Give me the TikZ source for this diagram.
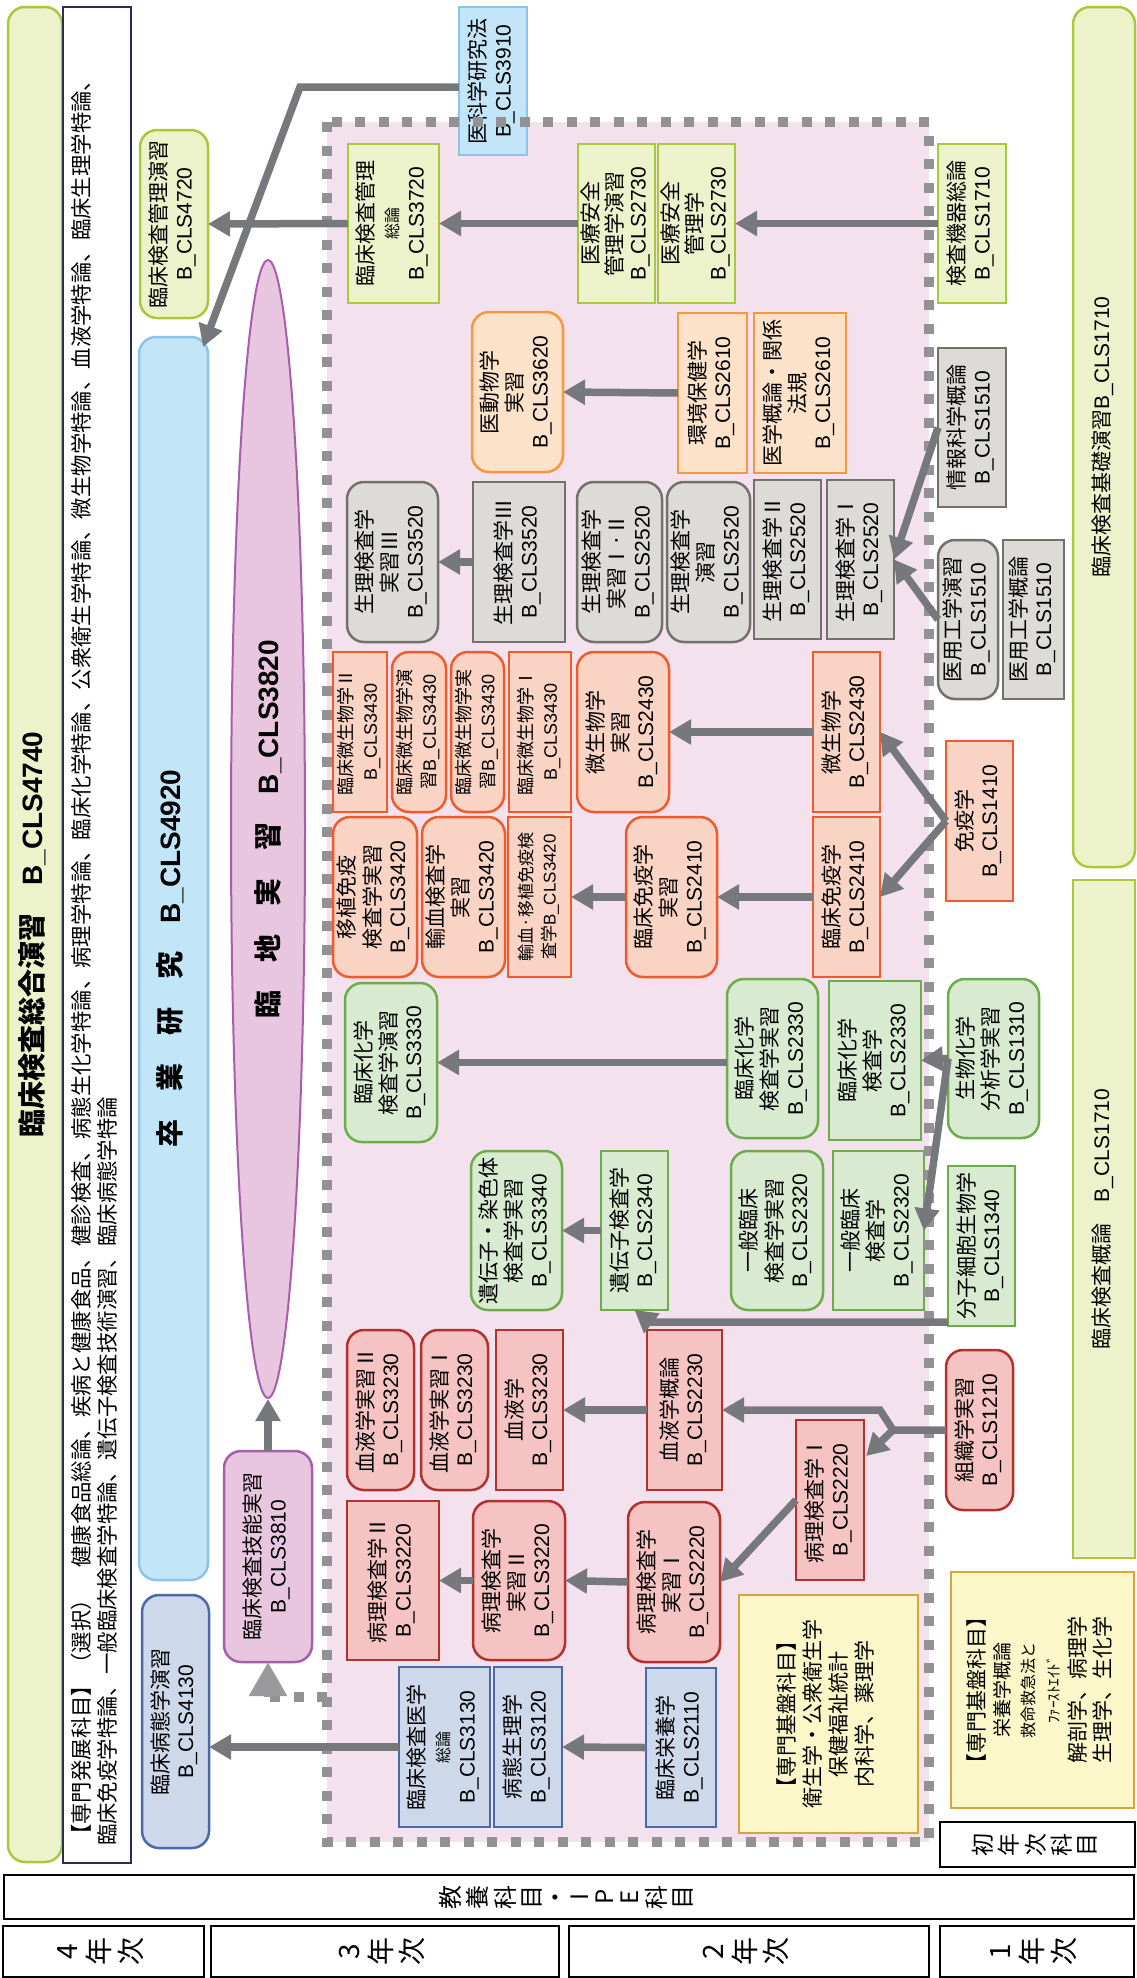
\documentclass[tikz,border=0pt]{standalone}
\usepackage{fontspec}
\usepackage{graphicx}
\setmainfont{Noto Sans CJK JP}
\newfontfamily\lat{Liberation Sans}
\usetikzlibrary{arrows.meta,shapes.geometric}
\newcommand\cls[1]{{\lat B\_CLS#1}}
\definecolor{grnF}{HTML}{ECF2C9}
\definecolor{grnD}{HTML}{AAC83C}
\definecolor{bluF}{HTML}{C2E5F8}
\definecolor{bluD}{HTML}{8CC3EA}
\definecolor{pinkBG}{HTML}{F3E1EE}
\definecolor{dashG}{HTML}{929294}
\definecolor{orF}{HTML}{FDE2CA}
\definecolor{orD}{HTML}{F7983C}
\definecolor{gyF}{HTML}{DDDBD8}
\definecolor{gyD}{HTML}{74716D}
\definecolor{roF}{HTML}{F9D3C3}
\definecolor{roD}{HTML}{EF5B2A}
\definecolor{gnF}{HTML}{D8EBD1}
\definecolor{gnD}{HTML}{6CAC4B}
\definecolor{rdF}{HTML}{F5C4C2}
\definecolor{rdD}{HTML}{B3302D}
\definecolor{bgF}{HTML}{CDD8EA}
\definecolor{bgD}{HTML}{4A69A9}
\definecolor{puF}{HTML}{E8C6E0}
\definecolor{puD}{HTML}{A65FAB}
\definecolor{yeF}{HTML}{FBF7C8}
\definecolor{yeD}{HTML}{D8A53C}
\definecolor{navy}{HTML}{272D5C}
\definecolor{arrG}{HTML}{77787B}
\definecolor{larrG}{HTML}{9A9A9C}
\tikzset{
  bx/.style={rectangle, inner sep=0pt, outer sep=0pt, line width=2.5pt, font=\fontsize{21}{25}\selectfont},
  rnd/.style={rounded corners=17pt},
  grn/.style={bx, draw=grnD, fill=grnF},
  blu/.style={bx, draw=bluD, fill=bluF},
  ora/.style={bx, draw=orD, fill=orF},
  gry/.style={bx, draw=gyD, fill=gyF},
  ros/.style={bx, draw=roD, fill=roF},
  gne/.style={bx, draw=gnD, fill=gnF},
  red/.style={bx, draw=rdD, fill=rdF},
  blg/.style={bx, draw=bgD, fill=bgF},
  pur/.style={bx, draw=puD, fill=puF},
  yel/.style={bx, draw=yeD, fill=yeF},
  wht/.style={bx, draw=black, fill=white, line width=2pt},
  smallf/.style={font=\fontsize{18}{24}\selectfont},
  tinyf/.style={font=\fontsize{17}{23}\selectfont},
  tightf/.style={font=\fontsize{21}{23}\selectfont},
  bigb/.style={font=\bfseries\fontsize{28}{30}\selectfont},
  arr/.style={draw=arrG, line width=7.5pt, -{Triangle[length=22pt,width=24pt]}},
  larr/.style={draw=larrG, line width=9pt, -{Triangle[length=34pt,width=36pt]}},
  dashln/.style={draw=dashG, line width=10pt, dash pattern=on 10pt off 13.5pt},
}
\newcommand\mkbox[7]{%
  \pgfmathsetmacro\mkW{#4-#3}%
  \pgfmathsetmacro\mkH{#6-#5}%
  \pgfmathsetmacro\mkX{(#3+#4)/2}%
  \pgfmathsetmacro\mkY{(#5+#6)/2}%
  \node[#1, minimum width=\mkW pt, minimum height=\mkH pt] (#2) at (\mkX,\mkY) {\rotatebox{90}{\begin{tabular}{@{}c@{}}#7\end{tabular}}};%
}
\begin{document}
\begin{tikzpicture}[x=1pt,y=-1pt]
\useasboundingbox (0,0) rectangle (1136,1978);
% pink region
\fill[pinkBG] (327,122) rectangle (929,1842);
% side bars
\mkbox{grn,rnd,bigb}{sogo}{8}{62}{7}{1862}{臨床検査総合演習　\cls{4740}}
\mkbox{wht,draw=navy,line width=2.5pt}{hatten}{63}{131}{7}{1863}{}
\node[rotate=90, anchor=west, inner sep=0pt, font=\fontsize{21.4}{25}\selectfont] (hat1) at (81,1846) {【専門発展科目】（選択）　健康食品総論、疾病と健康食品、健診検査、病態生化学特論、病理学特論、臨床化学特論、公衆衛生学特論、微生物学特論、血液学特論、臨床生理学特論、};
\node[rotate=90, anchor=west, inner sep=0pt, font=\fontsize{21.4}{25}\selectfont] (hat2) at (107,1846) {臨床免疫学特論、一般臨床検査学特論、遺伝子検査技術演習、臨床病態学特論};
\mkbox{blu,rnd,bigb}{sotsu}{139}{208}{337}{1580}{卒　業　研　究　\cls{4920}}
\node[ellipse, draw=puD, fill=puF, line width=2pt, minimum width=74pt, minimum height=1138pt, inner sep=0pt, bigb] (rinchi) at (268,829) {\rotatebox{90}{臨　地　実　習　\cls{3820}}};
\mkbox{grn,rnd}{kiso}{1073}{1135}{7}{867}{臨床検査基礎演習\cls{1710}}
\mkbox{grn}{gairon}{1073}{1135}{880}{1558}{臨床検査概論　\cls{1710}}
% top row
\mkbox{grn,rnd}{mgmtA}{140}{208}{130}{318}{臨床検査管理演習\\\cls{4720}}
\mkbox{grn}{mgmtB}{348}{439}{144}{303}{臨床検査管理\\{\fontsize{16}{25}\selectfont 総論}\\\cls{3720}}
\mkbox{blu}{ikagaku}{459}{527}{7}{155}{医科学研究法\\\cls{3910}}
\mkbox{grn,tightf}{anzenE}{578}{655}{144}{303}{医療安全\\管理学演習\\\cls{2730}}
\mkbox{grn,tightf}{anzen}{658}{735}{144}{303}{医療安全\\管理学\\\cls{2730}}
\mkbox{grn}{kiki}{938}{1006}{144}{303}{検査機器総論\\\cls{1710}}
% orange row
\mkbox{ora,rnd}{idobutsu}{472}{563}{312}{472}{医動物学\\実習\\\cls{3620}}
\mkbox{ora}{kankyo}{678}{747}{313}{473}{環境保健学\\\cls{2610}}
\mkbox{ora}{igaku}{754}{846}{313}{473}{医学概論・関係\\法規\\\cls{2610}}
\mkbox{gry}{joho}{938}{1006}{348}{507}{情報科学概論\\\cls{1510}}
% grey row
\mkbox{gry,rnd}{seiriJ3}{347}{438}{482}{642}{生理検査学\\実習Ⅲ\\\cls{3520}}
\mkbox{gry}{seiri3}{473}{565}{482}{642}{生理検査学Ⅲ\\\cls{3520}}
\mkbox{gry,rnd}{seiriJ12}{577}{662}{482}{642}{生理検査学\\実習Ⅰ·Ⅱ\\\cls{2520}}
\mkbox{gry,rnd}{seiriE}{667}{750}{482}{642}{生理検査学\\演習\\\cls{2520}}
\mkbox{gry}{seiri2}{754}{821}{480}{639}{生理検査学Ⅱ\\\cls{2520}}
\mkbox{gry}{seiri1}{827}{894}{480}{639}{生理検査学Ⅰ\\\cls{2520}}
\mkbox{gry,rnd}{iyoE}{938}{998}{540}{699}{医用工学演習\\\cls{1510}}
\mkbox{gry}{iyo}{1003}{1064}{540}{699}{医用工学概論\\\cls{1510}}
% microbiology row
\mkbox{ros,smallf}{rinbi2}{333}{387}{652}{812}{臨床微生物学Ⅱ\\\cls{3430}}
\mkbox{ros,rnd,smallf}{rinbiE}{392}{446}{652}{812}{臨床微生物学演\\習\cls{3430}}
\mkbox{ros,rnd,smallf}{rinbiJ}{451}{504}{652}{812}{臨床微生物学実\\習\cls{3430}}
\mkbox{ros,smallf}{rinbi1}{509}{571}{652}{812}{臨床微生物学Ⅰ\\\cls{3430}}
\mkbox{ros,rnd}{biseiJ}{577}{669}{652}{812}{微生物学\\実習\\\cls{2430}}
\mkbox{ros}{bisei}{813}{880}{652}{812}{微生物学\\\cls{2430}}
\mkbox{ros}{meneki}{946}{1013}{741}{901}{免疫学\\\cls{1410}}
% immunology row
\mkbox{ros,rnd}{ishoku}{333}{417}{817}{977}{移植免疫\\検査学実習\\\cls{3420}}
\mkbox{ros,rnd}{yuketsuJ}{422}{505}{817}{977}{輸血検査学\\実習\\\cls{3420}}
\mkbox{ros,tinyf}{yuketsu}{508}{571}{817}{977}{輸血·移植免疫検\\査学\cls{3420}}
\mkbox{ros,rnd}{rinmenJ}{626}{717}{817}{977}{臨床免疫学\\実習\\\cls{2410}}
\mkbox{ros}{rinmen}{813}{880}{817}{977}{臨床免疫学\\\cls{2410}}
% chemistry row
\mkbox{gne,rnd}{rinkaE}{345}{437}{983}{1142}{臨床化学\\検査学演習\\\cls{3330}}
\mkbox{gne,rnd}{rinkaJ}{727}{818}{979}{1138}{臨床化学\\検査学実習\\\cls{2330}}
\mkbox{gne}{rinka}{829}{921}{981}{1140}{臨床化学\\検査学\\\cls{2330}}
\mkbox{gne,rnd}{seibutsu}{948}{1039}{979}{1138}{生物化学\\分析学実習\\\cls{1310}}
% gene row
\mkbox{gne,rnd}{idenshiJ}{471}{562}{1151}{1310}{遺伝子・染色体\\検査学実習\\\cls{3340}}
\mkbox{gne}{idenshi}{601}{668}{1151}{1310}{遺伝子検査学\\\cls{2340}}
\mkbox{gne,rnd}{ippanJ}{731}{823}{1151}{1310}{一般臨床\\検査学実習\\\cls{2320}}
\mkbox{gne}{ippan}{833}{924}{1151}{1310}{一般臨床\\検査学\\\cls{2320}}
\mkbox{gne}{bunshi}{948}{1015}{1166}{1326}{分子細胞生物学\\\cls{1340}}
% blood row
\mkbox{red,rnd}{ketsuJ2}{347}{414}{1330}{1490}{血液学実習Ⅱ\\\cls{3230}}
\mkbox{red,rnd}{ketsuJ1}{421}{488}{1330}{1490}{血液学実習Ⅰ\\\cls{3230}}
\mkbox{red}{ketsu}{496}{563}{1330}{1490}{血液学\\\cls{3230}}
\mkbox{red}{ketsuG}{647}{722}{1330}{1490}{血液学概論\\\cls{2230}}
\mkbox{red,rnd}{soshiki}{946}{1013}{1350}{1510}{組織学実習\\\cls{1210}}
% pathology row
\mkbox{red}{byori2}{347}{439}{1501}{1660}{病理検査学Ⅱ\\\cls{3220}}
\mkbox{red,rnd}{byoriJ2}{473}{565}{1501}{1660}{病理検査学\\実習Ⅱ\\\cls{3220}}
\mkbox{red,rnd}{byoriJ1}{628}{720}{1502}{1662}{病理検査学\\実習Ⅰ\\\cls{2220}}
\mkbox{red}{byori1}{796}{864}{1420}{1580}{病理検査学Ⅰ\\\cls{2220}}
% blue-grey row
\mkbox{blg}{rinken}{399}{490}{1667}{1827}{臨床検査医学\\{\fontsize{16}{25}\selectfont 総論}\\\cls{3130}}
\mkbox{blg}{byotai}{494}{562}{1667}{1827}{病態生理学\\\cls{3120}}
\mkbox{blg}{eiyo}{646}{716}{1668}{1827}{臨床栄養学\\\cls{2110}}
\mkbox{blg,rnd}{byotaiE}{142}{209}{1595}{1848}{臨床病態学演習\\\cls{4130}}
\mkbox{pur,rnd}{gino}{224}{312}{1451}{1662}{臨床検査技能実習\\\cls{3810}}
% yellow boxes
\mkbox{yel,font=\fontsize{21}{26}\selectfont}{kibanIn}{739}{918}{1595}{1833}{【専門基盤科目】\\衛生学・公衆衛生学\\保健福祉統計\\内科学、薬理学}
\mkbox{yel}{kibanOut}{951}{1134}{1572}{1808}{【専門基盤科目】\\{\fontsize{19}{25}\selectfont 栄養学概論}\\{\fontsize{16}{25}\selectfont 救命救急法と}\\{\fontsize{15}{25}\selectfont ﾌｧｰｽﾄｴｲﾄﾞ}\\解剖学、病理学\\生理学、生化学}
% bottom frames
\mkbox{wht,font=\fontsize{23}{24}\selectfont}{shonen}{940}{1135}{1822}{1867}{初\\年\\次\\科\\目}
\mkbox{wht,font=\fontsize{24}{24}\selectfont}{kyoyo}{4}{1134}{1875}{1919}{教\\養\\科\\目\\・\\I\\P\\E\\科\\目}
\mkbox{wht,font=\fontsize{28}{28}\selectfont}{yr4}{3}{204}{1926}{1977}{4\\年\\次}
\mkbox{wht,font=\fontsize{28}{28}\selectfont}{yr3}{211}{559}{1926}{1977}{3\\年\\次}
\mkbox{wht,font=\fontsize{28}{28}\selectfont}{yr2}{569}{929}{1926}{1977}{2\\年\\次}
\mkbox{wht,font=\fontsize{28}{28}\selectfont}{yr1}{940}{1134}{1926}{1977}{1\\年\\次}
% dashed border of region
\draw[dashln] (327,122) rectangle (929,1842);
% arrows
\draw[arr] (mgmtB.west) -- (mgmtA.east);
\draw[arr] (anzenE.west) -- (mgmtB.east);
\draw[arr] (kiki.west) -- (anzen.east);
\coordinate (k1) at (300,87);
\coordinate (k2) at (203,347);
\draw[arr] (ikagaku.west |- k1) -- (k1) -- (k2);
\draw[arr] (kankyo.west) -- (idobutsu.east);
\draw[arr] (seiri3.west) -- (seiriJ3.east);
\draw[arr] (joho.west) -- (seiri1.east);
\draw[arr] (iyoE.west) -- (seiri1.east);
\draw[arr] (bisei.west) -- (biseiJ.east);
\draw[arr] (meneki.west) -- (bisei.east);
\draw[arr] (meneki.west) -- (rinmen.east);
\draw[arr] (rinmen.west) -- (rinmenJ.east);
\draw[arr] (rinmenJ.west) -- (yuketsu.east);
\draw[arr] (rinkaJ.west |- rinkaE.east) -- (rinkaE.east);
\draw[arr] (seibutsu.west) -- (rinka.east);
\draw[arr] (seibutsu.west) -- (ippan.east);
\draw[arr] (idenshi.west) -- (idenshiJ.east);
\coordinate (b1) at (650,1322);
\draw[arr] (bunshi.west |- b1) -- (b1) -- (idenshi.south);
\draw[arr] (ketsuG.west) -- (ketsu.east);
\coordinate (s1) at (893,1430);
\coordinate (s2) at (880,1410);
\coordinate (s3) at (866,1456);
\draw[arr] (soshiki.west) -- (s1) -- (s2) -- (ketsuG.east);
\draw[arr] (s1) -- (s3);
\draw[arr] (byori1.west) -- (byoriJ1.east);
\draw[arr] (byoriJ1.west) -- (byoriJ2.east);
\draw[arr] (byoriJ2.west) -- (byori2.east);
\draw[arr] (eiyo.west) -- (byotai.east);
\draw[arr] (rinken.west) -- (rinken.west -| byotaiE.east);
\draw[arr] (gino.north) -- (rinchi.south);
\coordinate (g1) at (327,1697);
\coordinate (g2) at (268,1697);
\draw[dashln] (g1) -- (g2);
\draw[larr] (g2) -- (gino.south);
\end{tikzpicture}
\end{document}
